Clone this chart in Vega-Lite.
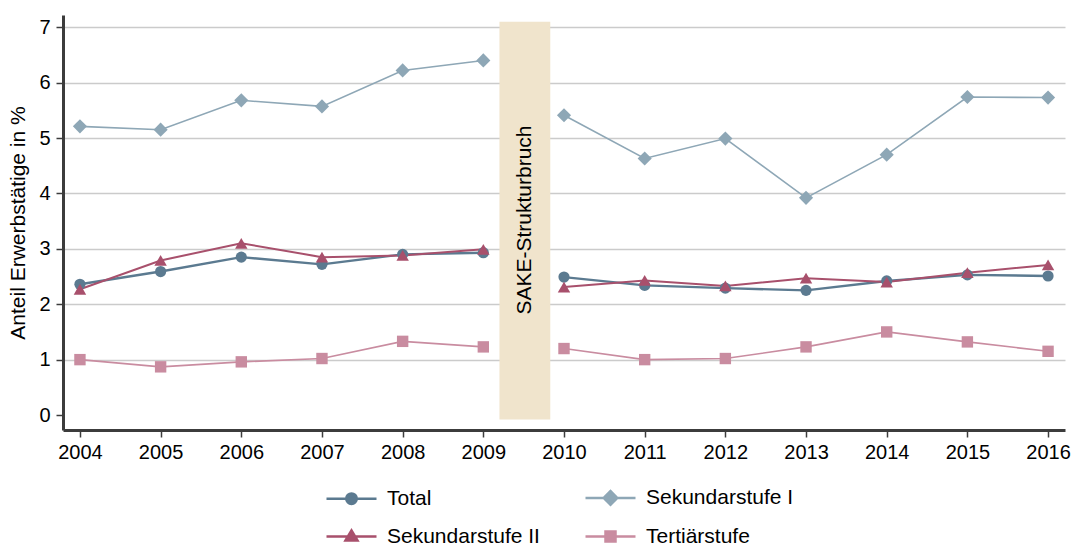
{
  "$schema": "https://vega.github.io/schema/vega-lite/v6.json",
  "width": 1002,
  "height": 415,
  "autosize": {"type": "none"},
  "padding": {"left": 63, "top": 15, "right": 10, "bottom": 118},
  "background": "white",
  "config": {
    "view": {"stroke": null},
    "font": "Liberation Sans",
    "axis": {
      "domainColor": "#3c3c3c",
      "domainWidth": 3,
      "tickColor": "#3c3c3c",
      "tickWidth": 1.5,
      "tickSize": 7,
      "labelFontSize": 20,
      "labelColor": "#000000",
      "labelFont": "Liberation Sans",
      "titleFont": "Liberation Sans",
      "titleFontSize": 21,
      "titleFontWeight": "normal",
      "titleColor": "#000000",
      "gridColor": "#cbcbcb",
      "gridWidth": 1.5
    },
    "legend": {
      "labelFont": "Liberation Sans",
      "labelFontSize": 21,
      "labelColor": "#000000"
    }
  },
  "datasets": {
    "series": [
      {"year": 2004, "value": 2.36, "series": "Total", "period": "vor"},
      {"year": 2005, "value": 2.59, "series": "Total", "period": "vor"},
      {"year": 2006, "value": 2.85, "series": "Total", "period": "vor"},
      {"year": 2007, "value": 2.72, "series": "Total", "period": "vor"},
      {"year": 2008, "value": 2.90, "series": "Total", "period": "vor"},
      {"year": 2009, "value": 2.93, "series": "Total", "period": "vor"},
      {"year": 2010, "value": 2.49, "series": "Total", "period": "nach"},
      {"year": 2011, "value": 2.34, "series": "Total", "period": "nach"},
      {"year": 2012, "value": 2.29, "series": "Total", "period": "nach"},
      {"year": 2013, "value": 2.25, "series": "Total", "period": "nach"},
      {"year": 2014, "value": 2.42, "series": "Total", "period": "nach"},
      {"year": 2015, "value": 2.53, "series": "Total", "period": "nach"},
      {"year": 2016, "value": 2.51, "series": "Total", "period": "nach"},
      {"year": 2004, "value": 5.21, "series": "Sekundarstufe I", "period": "vor"},
      {"year": 2005, "value": 5.15, "series": "Sekundarstufe I", "period": "vor"},
      {"year": 2006, "value": 5.68, "series": "Sekundarstufe I", "period": "vor"},
      {"year": 2007, "value": 5.57, "series": "Sekundarstufe I", "period": "vor"},
      {"year": 2008, "value": 6.22, "series": "Sekundarstufe I", "period": "vor"},
      {"year": 2009, "value": 6.40, "series": "Sekundarstufe I", "period": "vor"},
      {"year": 2010, "value": 5.41, "series": "Sekundarstufe I", "period": "nach"},
      {"year": 2011, "value": 4.63, "series": "Sekundarstufe I", "period": "nach"},
      {"year": 2012, "value": 4.99, "series": "Sekundarstufe I", "period": "nach"},
      {"year": 2013, "value": 3.92, "series": "Sekundarstufe I", "period": "nach"},
      {"year": 2014, "value": 4.70, "series": "Sekundarstufe I", "period": "nach"},
      {"year": 2015, "value": 5.74, "series": "Sekundarstufe I", "period": "nach"},
      {"year": 2016, "value": 5.73, "series": "Sekundarstufe I", "period": "nach"},
      {"year": 2004, "value": 2.27, "series": "Sekundarstufe II", "period": "vor"},
      {"year": 2005, "value": 2.79, "series": "Sekundarstufe II", "period": "vor"},
      {"year": 2006, "value": 3.10, "series": "Sekundarstufe II", "period": "vor"},
      {"year": 2007, "value": 2.85, "series": "Sekundarstufe II", "period": "vor"},
      {"year": 2008, "value": 2.88, "series": "Sekundarstufe II", "period": "vor"},
      {"year": 2009, "value": 2.99, "series": "Sekundarstufe II", "period": "vor"},
      {"year": 2010, "value": 2.31, "series": "Sekundarstufe II", "period": "nach"},
      {"year": 2011, "value": 2.43, "series": "Sekundarstufe II", "period": "nach"},
      {"year": 2012, "value": 2.33, "series": "Sekundarstufe II", "period": "nach"},
      {"year": 2013, "value": 2.47, "series": "Sekundarstufe II", "period": "nach"},
      {"year": 2014, "value": 2.40, "series": "Sekundarstufe II", "period": "nach"},
      {"year": 2015, "value": 2.57, "series": "Sekundarstufe II", "period": "nach"},
      {"year": 2016, "value": 2.71, "series": "Sekundarstufe II", "period": "nach"},
      {"year": 2004, "value": 1.00, "series": "Tertiärstufe", "period": "vor"},
      {"year": 2005, "value": 0.87, "series": "Tertiärstufe", "period": "vor"},
      {"year": 2006, "value": 0.96, "series": "Tertiärstufe", "period": "vor"},
      {"year": 2007, "value": 1.02, "series": "Tertiärstufe", "period": "vor"},
      {"year": 2008, "value": 1.33, "series": "Tertiärstufe", "period": "vor"},
      {"year": 2009, "value": 1.23, "series": "Tertiärstufe", "period": "vor"},
      {"year": 2010, "value": 1.20, "series": "Tertiärstufe", "period": "nach"},
      {"year": 2011, "value": 1.00, "series": "Tertiärstufe", "period": "nach"},
      {"year": 2012, "value": 1.02, "series": "Tertiärstufe", "period": "nach"},
      {"year": 2013, "value": 1.23, "series": "Tertiärstufe", "period": "nach"},
      {"year": 2014, "value": 1.50, "series": "Tertiärstufe", "period": "nach"},
      {"year": 2015, "value": 1.32, "series": "Tertiärstufe", "period": "nach"},
      {"year": 2016, "value": 1.15, "series": "Tertiärstufe", "period": "nach"}
    ],
    "band": [
      {"start": 2009.2, "end": 2009.83, "low": -0.08, "high": 7.1, "mid": 3.52, "center": 2009.515, "label": "SAKE-Strukturbruch"}
    ]
  },
  "layer": [
    {
      "data": {"name": "band"},
      "mark": {"type": "rect", "color": "#f0e4cc"},
      "encoding": {
        "x": {"field": "start", "type": "quantitative",
          "scale": {"domain": [2003.79, 2016.21], "nice": false, "zero": false},
          "axis": {"values": [2004, 2005, 2006, 2007, 2008, 2009, 2010, 2011, 2012, 2013, 2014, 2015, 2016], "format": "d", "title": null, "grid": false, "labelPadding": 5, "labelFlush": false}},
        "x2": {"field": "end"},
        "y": {"field": "low", "type": "quantitative",
          "scale": {"domain": [-0.27, 7.22], "nice": false, "zero": false},
          "axis": {"values": [0, 1, 2, 3, 4, 5, 6, 7], "format": "d", "title": "Anteil Erwerbstätige in %", "grid": true, "labelPadding": 6, "titlePadding": 10,
            "gridOpacity": {"condition": {"test": "datum.value === 0", "value": 0}, "value": 1}}},
        "y2": {"field": "high"}
      }
    },
    {
      "data": {"name": "band"},
      "mark": {"type": "text", "angle": 270, "fontSize": 21, "font": "Liberation Sans", "color": "#000000", "align": "center", "baseline": "middle"},
      "encoding": {
        "x": {"field": "center", "type": "quantitative"},
        "y": {"field": "mid", "type": "quantitative"},
        "text": {"field": "label"}
      }
    },
    {
      "data": {"name": "series"},
      "mark": {"type": "line"},
      "encoding": {
        "x": {"field": "year", "type": "quantitative"},
        "y": {"field": "value", "type": "quantitative"},
        "detail": {"field": "period"},
        "strokeWidth": {"field": "series", "type": "nominal",
          "scale": {"type": "ordinal", "domain": ["Sekundarstufe I", "Total", "Tertiärstufe", "Sekundarstufe II"], "range": [1.6, 2.4, 1.6, 2]},
          "legend": null},
        "stroke": {"field": "series", "type": "nominal",
          "scale": {"domain": ["Total", "Sekundarstufe I", "Sekundarstufe II", "Tertiärstufe"], "range": ["#5b7a90", "#8ea7b6", "#a8506c", "#c98ca0"]},
          "legend": {
            "title": null,
            "orient": "none",
            "legendX": 262,
            "legendY": 456,
            "direction": "horizontal",
            "columns": 2,
            "columnPadding": 40,
            "rowPadding": -6,
            "padding": 0,
            "symbolSize": 2500,
            "symbolStrokeWidth": 2.5,
            "labelOffset": 9,
            "encoding": {
              "symbols": {
                "shape": {"value": {"expr": "datum.value === 'Total' ? 'M-1,0H1M-0.21,0A0.21,0.21 0 1,1 0.21,0A0.21,0.21 0 1,1 -0.21,0Z' : datum.value === 'Sekundarstufe I' ? 'M-1,0H1M-0.27,0L0,-0.27L0.27,0L0,0.27Z' : datum.value === 'Sekundarstufe II' ? 'M-1,0H1M-0.24,0.16L0,-0.24L0.24,0.16Z' : 'M-1,0H1M-0.2,-0.2H0.2V0.2H-0.2Z'"}},
                "fill": {"value": {"expr": "datum.value === 'Total' ? '#5b7a90' : datum.value === 'Sekundarstufe I' ? '#8ea7b6' : datum.value === 'Sekundarstufe II' ? '#a8506c' : '#c98ca0'"}},
                "size": {"value": 2500},
                "strokeWidth": {"value": 2.5},
                "opacity": {"value": 1},
                "fillOpacity": {"value": 1}
              }
            }
          }}
      }
    },
    {
      "data": {"name": "series"},
      "mark": {"type": "point", "filled": true, "opacity": 1, "strokeWidth": 0},
      "encoding": {
        "x": {"field": "year", "type": "quantitative"},
        "y": {"field": "value", "type": "quantitative"},
        "fill": {"field": "series", "type": "nominal",
          "scale": {"domain": ["Tertiärstufe", "Sekundarstufe II", "Sekundarstufe I", "Total"], "range": ["#c98ca0", "#a8506c", "#8ea7b6", "#5b7a90"]},
          "legend": null},
        "shape": {"field": "series", "type": "nominal",
          "scale": {"domain": ["Tertiärstufe", "Sekundarstufe II", "Sekundarstufe I", "Total"], "range": ["square", "triangle-up", "diamond", "circle"]},
          "legend": null},
        "size": {"field": "series", "type": "nominal",
          "scale": {"type": "ordinal", "domain": ["Tertiärstufe", "Sekundarstufe II", "Sekundarstufe I", "Total"], "range": [130, 155, 200, 125]},
          "legend": null}
      }
    }
  ]
}
